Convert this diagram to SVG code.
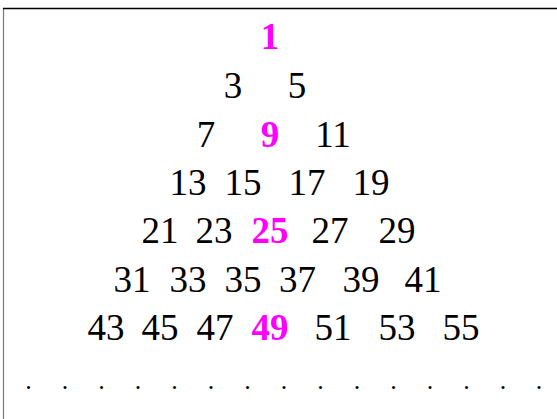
<svg xmlns="http://www.w3.org/2000/svg" width="557" height="419" viewBox="0 0 557 419">
<style>
  text { font-family: "Liberation Serif", "Times New Roman", serif; font-size: 37px; fill: #000; text-anchor: middle; }
  .hl { fill: #FF00FF; font-weight: bold; }
  .dot { font-size: 26px; }
</style>
<rect x="0" y="0" width="557" height="419" fill="#fff"/>
<g id="frame">
  <line x1="3.5" y1="8" x2="3.5" y2="419" stroke="#777" stroke-width="1.2"/>
  <line x1="3" y1="8.5" x2="557" y2="8.5" stroke="#000" stroke-width="1.4"/>
</g>
<g id="row1">
  <text class="hl" x="270" y="49">1</text>
</g>
<g id="row2">
  <text x="233" y="98">3</text>
  <text x="297" y="98">5</text>
</g>
<g id="row3">
  <text x="206" y="146.5">7</text>
  <text class="hl" x="270" y="146.5">9</text>
  <text x="333" y="146.5">11</text>
</g>
<g id="row4">
  <text x="188" y="195">13</text>
  <text x="243" y="195">15</text>
  <text x="307" y="195">17</text>
  <text x="371" y="195">19</text>
</g>
<g id="row5">
  <text x="160" y="243">21</text>
  <text x="214" y="243">23</text>
  <text class="hl" x="270" y="243">25</text>
  <text x="330" y="243">27</text>
  <text x="397" y="243">29</text>
</g>
<g id="row6">
  <text x="132" y="291.5">31</text>
  <text x="188" y="291.5">33</text>
  <text x="243" y="291.5">35</text>
  <text x="297.5" y="291.5">37</text>
  <text x="361" y="291.5">39</text>
  <text x="423" y="291.5">41</text>
</g>
<g id="row7">
  <text x="106" y="340">43</text>
  <text x="160" y="340">45</text>
  <text x="215" y="340">47</text>
  <text class="hl" x="270" y="340">49</text>
  <text x="333" y="340">51</text>
  <text x="397" y="340">53</text>
  <text x="461" y="340">55</text>
</g>
<g id="dots">
  <text class="dot" x="28.4" y="389">.</text>
  <text class="dot" x="65" y="389">.</text>
  <text class="dot" x="101.5" y="389">.</text>
  <text class="dot" x="138" y="389">.</text>
  <text class="dot" x="174.5" y="389">.</text>
  <text class="dot" x="211" y="389">.</text>
  <text class="dot" x="247.5" y="389">.</text>
  <text class="dot" x="284" y="389">.</text>
  <text class="dot" x="320.5" y="389">.</text>
  <text class="dot" x="357" y="389">.</text>
  <text class="dot" x="393.5" y="389">.</text>
  <text class="dot" x="430" y="389">.</text>
  <text class="dot" x="466.5" y="389">.</text>
  <text class="dot" x="503" y="389">.</text>
  <text class="dot" x="539" y="389">.</text>
</g>
</svg>
